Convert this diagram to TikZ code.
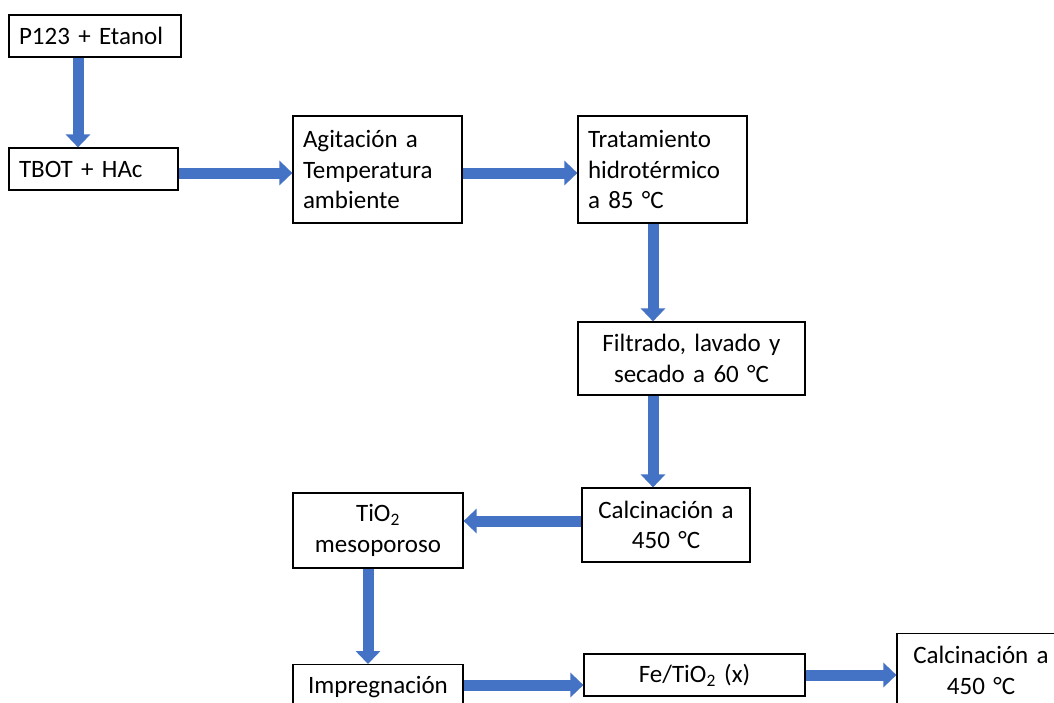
\documentclass[tikz,border=0pt]{standalone}
\usepackage{fontspec}
\setmainfont{Carlito}
\usetikzlibrary{arrows.meta}
\definecolor{cblue}{HTML}{4472C4}
\tikzset{
  every picture/.style={x=1pt, y=-1pt},
  box/.style={draw=black, line width=1.2pt, inner xsep=10pt, inner ysep=0pt, font=\fontsize{25}{30.5}\selectfont},
  flow/.style={-{Triangle[length=13pt, width=24pt]}, draw=cblue, line width=11pt},
}
\begin{document}
\begin{tikzpicture}
  \useasboundingbox (0,0) rectangle (1054,702);
  \clip (0,0) rectangle (1054,702);
  % top row
  \node[box, align=left, text width=152pt, minimum height=42pt] (p123) at (95,36) {P123 + Etanol};
  \node[box, align=left, text width=149pt, minimum height=42pt] (tbot) at (93.5,169) {TBOT + HAc};
  \node[box, align=left, text width=149pt, minimum height=107pt] (agit) at (377.5,169.5) {Agitación a\\Temperatura\\ambiente};
  \node[box, align=left, text width=149pt, minimum height=107pt] (trat) at (662.5,169.5) {Tratamiento\\hidrotérmico\\a 85 °C};
  % right column
  \node[box, align=center, text width=207pt, minimum height=73pt] (filt) at (691.5,358.5) {Filtrado, lavado y\\secado a 60 °C};
  \node[box, align=center, text width=148pt, minimum height=74pt] (calc1) at (666,525) {Calcinación a\\450 °C};
  % bottom rows
  \node[box, align=center, text width=150pt, minimum height=75pt] (tio2) at (378,530.5) {TiO\textsubscript{2}\\mesoporoso};
  \node[box, align=center, text width=150pt, minimum height=45pt, anchor=north] (imp) at (378,664) {Impregnación};
  \node[box, align=center, text width=201pt, minimum height=42pt] (fe) at (694.5,675) {Fe/TiO\textsubscript{2} (x)};
  \node[box, align=center, text width=148pt, minimum height=74pt, anchor=north] (calc2) at (981,633) {Calcinación a\\450 °C};
  % arrows
  \draw[flow] (p123.south -| 78,0) -- (tbot.north -| 78,0);
  \draw[flow] (tbot.east |- 0,173) -- (agit.west |- 0,173);
  \draw[flow] (agit.east |- 0,173) -- (trat.west |- 0,173);
  \draw[flow] (trat.south -| 653,0) -- (filt.north -| 653,0);
  \draw[flow] (filt.south -| 653,0) -- (calc1.north -| 653,0);
  \draw[flow] (calc1.west |- 0,521) -- (tio2.east |- 0,521);
  \draw[flow] (tio2.south -| 368,0) -- (imp.north -| 368,0);
  \draw[flow] (imp.east |- 0,685) -- (fe.west |- 0,685);
  \draw[flow] (fe.east |- 0,675) -- (calc2.west |- 0,675);
\end{tikzpicture}
\end{document}
